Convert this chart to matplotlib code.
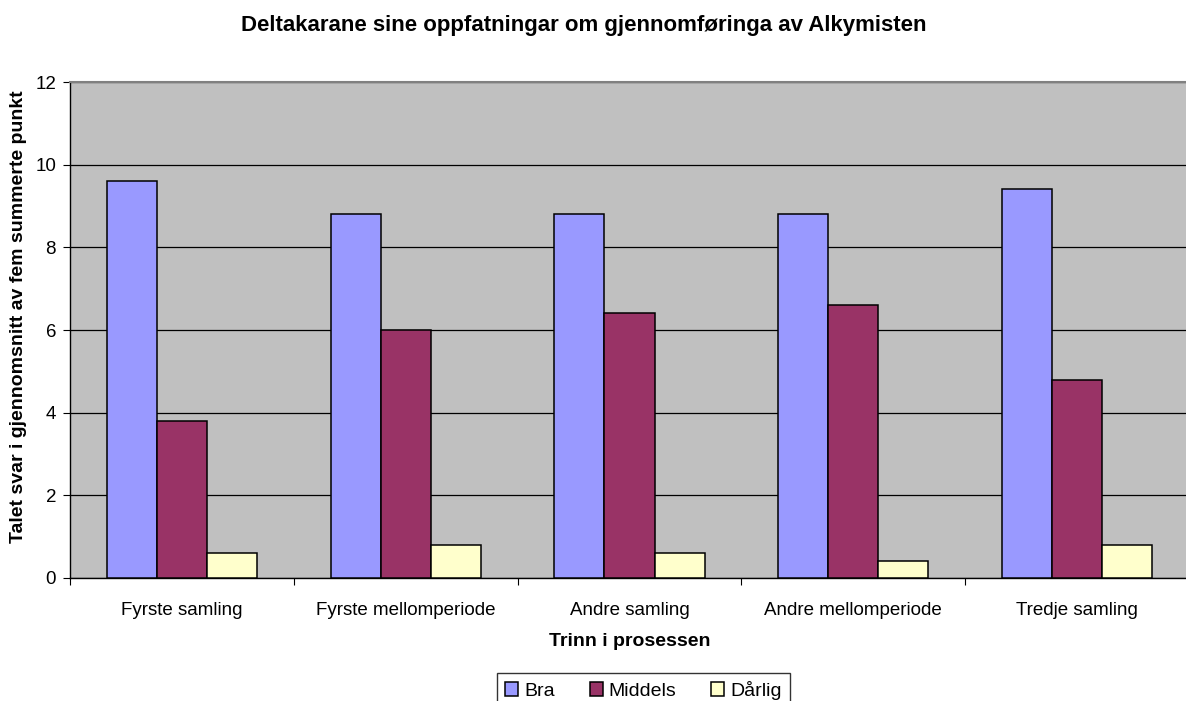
import numpy as np
import matplotlib
matplotlib.use("Agg")
import matplotlib.pyplot as plt

# === Data ===
kategoriar = ["Fyrste samling", "Fyrste mellomperiode", "Andre samling",
              "Andre mellomperiode", "Tredje samling"]
bra = [9.6, 8.8, 8.8, 8.8, 9.4]
middels = [3.8, 6.0, 6.4, 6.6, 4.8]
darlig = [0.6, 0.8, 0.6, 0.4, 0.8]

serier = [("Bra", bra, "#9999FF"),
          ("Middels", middels, "#993366"),
          ("Dårlig", darlig, "#FFFFCC")]

plt.rcParams["font.family"] = ["Liberation Sans", "DejaVu Sans"]

# === Figure ===
fig = plt.figure(figsize=(11.86, 7.01), dpi=100)
ax = fig.add_axes([70 / 1186, 1 - 578 / 701, 1119 / 1186, 496 / 701])
ax.set_facecolor("#C0C0C0")

x = np.arange(len(kategoriar))
w = 0.2235
for i, (namn, verdiar, farge) in enumerate(serier):
    ax.bar(x + (i - 1) * w, verdiar, width=w, color=farge,
           edgecolor="black", linewidth=1.1, label=namn, zorder=3)

ax.set_xlim(-0.5, len(kategoriar) - 0.5)
ax.set_ylim(0, 12)
ax.set_yticks(range(0, 13, 2))
ax.grid(axis="y", color="black", linewidth=0.9, zorder=0)

# ticks between categories
ax.set_xticks(np.arange(-0.5, len(kategoriar), 1.0))
ax.set_xticklabels([])
ax.set_xticks(x, minor=True)
ax.set_xticklabels(kategoriar, minor=True, fontsize=13.5)
ax.tick_params(axis="x", which="minor", length=0, pad=17)
ax.tick_params(axis="x", which="major", length=5, color="black")
ax.tick_params(axis="y", labelsize=13.5, length=5, pad=5)

ax.spines["right"].set_visible(False)
ax.spines["top"].set_color("#808080")
ax.spines["top"].set_linewidth(1.5)
for s in ["left", "bottom"]:
    ax.spines[s].set_linewidth(1.0)
    ax.spines[s].set_color("black")

ax.set_xlabel("Trinn i prosessen", fontsize=14, fontweight="bold", labelpad=10)
ax.set_ylabel("Talet svar i gjennomsnitt av fem summerte punkt",
              fontsize=14, fontweight="bold")
ax.yaxis.set_label_coords(-0.0385, 0.527)
fig.text(0.492, 1 - 25 / 701,
         "Deltakarane sine oppfatningar om gjennomføringa av Alkymisten",
         fontsize=16, fontweight="bold", ha="center", va="center")

leg = fig.legend(loc="upper center", bbox_to_anchor=(643.5 / 1186, 1 - 673 / 701),
                 ncol=3, fontsize=14, frameon=True, fancybox=False,
                 edgecolor="black", handlelength=0.67, handleheight=0.67,
                 handletextpad=0.3, columnspacing=1.8, borderpad=0.4,
                 borderaxespad=0)
leg.get_frame().set_linewidth(1.0)

plt.savefig("out.png", dpi=100)
